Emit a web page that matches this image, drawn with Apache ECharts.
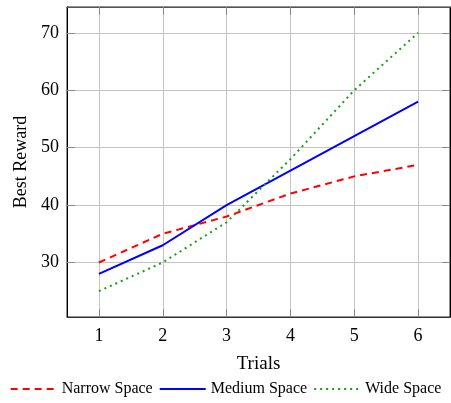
<!DOCTYPE html>
<html><head><meta charset="utf-8">
<script src="https://cdn.jsdelivr.net/npm/echarts@6/dist/echarts.min.js"></script>
<style>html,body{margin:0;padding:0;background:#fff}#c{width:451px;height:403px}</style>
</head><body><div id="c"></div>
<script>
const trials = [1, 2, 3, 4, 5, 6];
const yTicks = [30, 40, 50, 60, 70];
const narrow = [30, 35, 38, 42, 45, 47];
const medium = [28, 33, 40, 46, 52, 58];
const wide = [25, 30, 37, 48, 60, 70];
const seriesNames = ['Narrow Space', 'Medium Space', 'Wide Space'];

const font = 'Liberation Serif, Times New Roman, serif';
const pair = arr => arr.map((v, i) => [trials[i], v]);
const xMin = 0.5, xMax = 6.5, yMin = 20.5, yMax = 74.5;
const tick = {show: true, inside: true, length: 8, lineStyle: {color: '#888', width: 1}};

const chart = echarts.init(document.getElementById('c'));
chart.setOption({
  animation: false,
  grid: {left: 67, right: 1, top: 7, bottom: 86, show: true, borderColor: '#222', borderWidth: 1},
  xAxis: [{
    type: 'value', min: xMin, max: xMax, name: 'Trials', nameLocation: 'middle', nameGap: 38,
    nameTextStyle: {fontFamily: font, fontSize: 19, color: '#000'},
    axisLine: {show: true, lineStyle: {color: '#333'}},
    axisTick: Object.assign({customValues: trials}, tick),
    axisLabel: {customValues: trials, fontFamily: font, fontSize: 18, color: '#000', margin: 10},
    splitLine: {show: true, lineStyle: {color: '#c4c4c4', width: 1}}
  }, {
    type: 'value', min: xMin, max: xMax, position: 'top',
    axisLine: {show: true, lineStyle: {color: '#555'}},
    axisTick: Object.assign({customValues: trials}, tick),
    axisLabel: {show: false}, splitLine: {show: false}
  }],
  yAxis: [{
    type: 'value', min: yMin, max: yMax, name: 'Best Reward', nameLocation: 'middle', nameGap: 31,
    nameTextStyle: {fontFamily: font, fontSize: 18, color: '#000'},
    axisLine: {show: true, lineStyle: {color: '#000'}},
    axisTick: Object.assign({customValues: yTicks}, tick),
    axisLabel: {customValues: yTicks, fontFamily: font, fontSize: 18, color: '#000', margin: 8},
    splitLine: {show: true, lineStyle: {color: '#c4c4c4', width: 1}}
  }, {
    type: 'value', min: yMin, max: yMax, position: 'right',
    axisLine: {show: true, lineStyle: {color: '#000'}},
    axisTick: Object.assign({customValues: yTicks}, tick),
    axisLabel: {show: false}, splitLine: {show: false}
  }],
  legend: {
    bottom: 1, left: 'center', itemWidth: 46, itemHeight: 10, itemGap: 6,
    itemStyle: {opacity: 0},
    textStyle: {fontFamily: font, fontSize: 16, color: '#000'},
    data: seriesNames
  },
  series: [
    {name: seriesNames[0], type: 'line', data: pair(narrow), symbol: 'none', color: '#ff0000',
     lineStyle: {width: 2, type: [7, 5], color: '#ff0000'}},
    {name: seriesNames[1], type: 'line', data: pair(medium), symbol: 'none', color: '#0000ff',
     lineStyle: {width: 2, type: 'solid', color: '#0000ff'}},
    {name: seriesNames[2], type: 'line', data: pair(wide), symbol: 'none', color: '#11a011',
     lineStyle: {width: 2, type: [2, 4], color: '#11a011'}}
  ]
});
</script></body></html>
